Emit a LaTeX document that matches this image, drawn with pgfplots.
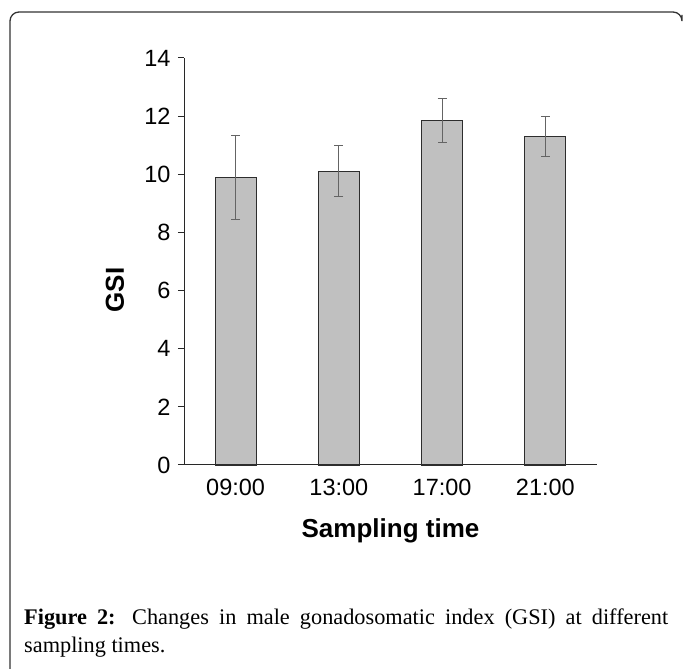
\documentclass[border=0pt]{standalone}
\usepackage{pgfplots}
\pgfplotsset{compat=1.18}
\usepackage{fontspec}
\setmainfont{Liberation Sans}
\newfontfamily\capfont{Liberation Serif}
\definecolor{barfill}{RGB}{192,192,192}
\definecolor{bardraw}{RGB}{45,45,45}
\definecolor{errgray}{RGB}{100,100,100}
\definecolor{axisgray}{RGB}{40,40,40}

\begin{document}
\begin{tikzpicture}
\path[use as bounding box] (0,0) rectangle (683bp,669bp);
% page frame (top and left only)
\draw[line width=1.3bp, black!80, rounded corners=9bp] (10bp,-5bp) -- (10bp,657bp) -- (682bp,657bp) -- (682bp,654bp);

\begin{axis}[
    at={(184bp,204bp)},
    anchor=south west,
    scale only axis,
    width=413bp,
    height=407bp,
    xmin=-0.5, xmax=3.5,
    ymin=0, ymax=14,
    axis x line*=bottom,
    axis y line*=left,
    axis line style={axisgray, line width=1bp},
    ybar,
    bar width=41bp,
    xtick={0,1,2,3},
    xticklabels={09:00,13:00,17:00,21:00},
    major x tick style={draw=none},
    extra x ticks={-0.5,0.5,1.5,2.5,3.5},
    extra x tick labels={},
    extra x tick style={major tick length=7bp, tick style={axisgray, line width=1bp}},
    ytick={0,2,...,14},
    tick align=outside,
    major tick length=6bp,
    tick style={axisgray, line width=1bp},
    /pgf/number format/assume math mode=true,
    tick label style={font=\fontsize{23.5bp}{28bp}\selectfont},
    yticklabel style={xshift=-4bp},
    xticklabel style={yshift=-5bp},
    xlabel={Sampling time},
    ylabel={GSI},
    label style={font=\fontsize{26bp}{31bp}\selectfont\bfseries},
    xlabel style={at={(axis description cs:0.5,-0.179)}, anchor=base},
    ylabel style={at={(axis description cs:-0.167,0.43)}, anchor=center},
    clip=false,
]
\addplot[fill=barfill, draw=bardraw, line width=1.2bp,
    error bars/.cd, y dir=both, y explicit,
    error bar style={errgray, line width=1bp},
    error mark options={rotate=90, mark size=4.5bp, line width=1bp, errgray}]
coordinates {
    (0,9.90) +- (0,1.45)
    (1,10.10) +- (0,0.88)
    (2,11.84) +- (0,0.76)
    (3,11.30) +- (0,0.70)
};
\end{axis}

\node[anchor=north west, inner sep=0pt, text width=644bp, align=justify,
      font=\capfont\fontsize{22.3bp}{28bp}\selectfont] at (24bp,60bp)
  {\textbf{Figure 2:} Changes in male gonadosomatic index (GSI) at different\linebreak sampling times.};
\end{tikzpicture}
\end{document}
